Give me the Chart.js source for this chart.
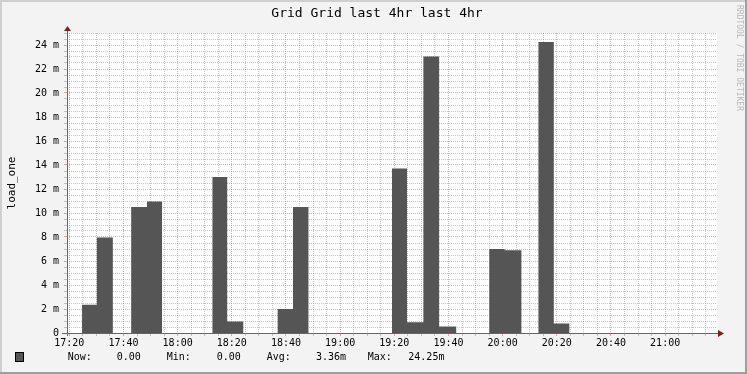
<!DOCTYPE html>
<html>
<head>
<meta charset="utf-8">
<script src="https://cdn.jsdelivr.net/npm/chart.js@4/dist/chart.umd.min.js"></script>
<style>
  html, body { margin: 0; padding: 0; background: #f3f3f3; }
  canvas { display: block; }
</style>
</head>
<body>
<canvas id="load-chart" width="747" height="374"></canvas>
<script>
// load_one samples, times in minutes after 17:00 (each step start/end)
const stepStart = [24.70, 30.15, 42.85, 48.67, 72.85, 78.30, 96.93, 102.59, 139.15, 144.70, 150.74, 156.56, 175.07, 180.74, 193.22, 198.89];
const stepEnd   = [30.15, 36.07, 48.67, 54.22, 78.30, 84.22, 102.59, 108.30, 144.70, 150.74, 156.56, 162.85, 180.74, 186.93, 198.89, 204.70];
const loadOne   = [2.35, 7.95, 10.5, 10.95, 13.0, 0.95, 2.0, 10.5, 13.7, 0.9, 23.05, 0.55, 7.0, 6.9, 24.25, 0.8]; // milli

const windowStart = 19.15; // 4hr window
const windowEnd = 259.15;
const xMinorTicks = [];   // every 5 min, 17:20 .. 21:15
for (let t = 20; t <= 255; t += 5) xMinorTicks.push(t);
const yTicks = [0, 2, 4, 6, 8, 10, 12, 14, 16, 18, 20, 22, 24];

const titleText = 'Grid Grid last 4hr last 4hr';
const yTitle = 'load_one';
const legendLabels = ['Now:', 'Min:', 'Avg:', 'Max:'];
const legendValues = ['0.00', '0.00', '3.36m', '24.25m'];
const watermark = 'RRDTOOL / TOBI OETIKER';

// build the step outline
const points = [];
for (let i = 0; i < loadOne.length; i++) {
    points.push({ x: stepStart[i], y: 0 });
    points.push({ x: stepStart[i], y: loadOne[i] });
    points.push({ x: stepEnd[i], y: loadOne[i] });
    points.push({ x: stepEnd[i], y: 0 });
}

const MONO = '"DejaVu Sans Mono", "Liberation Mono", monospace';
const GRID = 'rgba(150,150,150,0.55)';
const MGRID = 'rgba(222,80,80,0.5)';

function timeLabel(v) {
    const h = 17 + Math.floor(v / 60);
    const m = Math.round(v % 60);
    return h + ':' + (m < 10 ? '0' + m : m);
}

// rrdtool style frame, texts, axes and arrows
const rrdFrame = {
    id: 'rrdFrame',
    beforeDraw(chart) {
        const ctx = chart.ctx;
        const a = chart.chartArea;
        ctx.save();
        ctx.fillStyle = '#f3f3f3';
        ctx.fillRect(0, 0, 747, 374);
        ctx.fillStyle = '#cfcfcf';
        ctx.fillRect(0, 0, 747, 2);
        ctx.fillRect(0, 0, 2, 374);
        ctx.fillStyle = '#9e9e9e';
        ctx.fillRect(0, 372, 747, 2);
        ctx.fillRect(745, 0, 2, 374);
        ctx.fillStyle = '#ffffff';
        ctx.fillRect(a.left, a.top, a.right - a.left, a.bottom - a.top);
        ctx.restore();
    },
    afterDraw(chart) {
        const ctx = chart.ctx;
        const a = chart.chartArea;
        ctx.save();
        // axes
        ctx.strokeStyle = '#666666';
        ctx.lineWidth = 1;
        ctx.beginPath();
        ctx.moveTo(62, a.bottom + 0.5);
        ctx.lineTo(a.right + 1, a.bottom + 0.5);
        ctx.moveTo(a.left + 0.5, a.top - 2);
        ctx.lineTo(a.left + 0.5, a.bottom + 3);
        ctx.stroke();
        // arrows
        ctx.fillStyle = '#7f1f1f';
        ctx.beginPath();
        ctx.moveTo(a.right + 1, a.bottom - 3);
        ctx.lineTo(a.right + 1, a.bottom + 4);
        ctx.lineTo(a.right + 7, a.bottom + 0.5);
        ctx.closePath();
        ctx.fill();
        ctx.beginPath();
        ctx.moveTo(a.left - 3, a.top - 2);
        ctx.lineTo(a.left + 4, a.top - 2);
        ctx.lineTo(a.left + 0.5, a.top - 7);
        ctx.closePath();
        ctx.fill();

        // title
        ctx.fillStyle = '#000000';
        ctx.font = '13px ' + MONO;
        ctx.textAlign = 'center';
        ctx.textBaseline = 'middle';
        ctx.fillText(titleText, 377, 14);

        // y title
        ctx.save();
        ctx.translate(12, 183);
        ctx.rotate(-Math.PI / 2);
        ctx.font = '11px ' + MONO;
        ctx.fillText(yTitle, 0, 0);
        ctx.restore();

        // watermark
        ctx.save();
        ctx.translate(735, 5);
        ctx.rotate(Math.PI / 2);
        ctx.font = '8px ' + MONO;
        ctx.fillStyle = '#b8b8b8';
        ctx.textAlign = 'left';
        ctx.textBaseline = 'bottom';
        ctx.fillText(watermark, 0, 0);
        ctx.restore();

        // legend
        ctx.fillStyle = '#555555';
        ctx.fillRect(16, 353, 8, 9);
        ctx.strokeStyle = '#000000';
        ctx.strokeRect(15.5, 352.5, 8, 9);
        ctx.fillStyle = '#000000';
        ctx.font = '10px ' + MONO;
        ctx.textAlign = 'left';
        const labelX = [67.7, 166.7, 266.7, 367.7];
        const valueX = [116.7, 216.7, 316, 408.3];
        for (let i = 0; i < legendLabels.length; i++) {
            ctx.fillText(legendLabels[i], labelX[i], 357.5);
            ctx.fillText(legendValues[i], valueX[i], 357.5);
        }
        ctx.restore();
    }
};

new Chart(document.getElementById('load-chart'), {
    type: 'line',
    data: {
        datasets: [{
            label: yTitle,
            data: points,
            backgroundColor: '#555555',
            borderColor: '#555555',
            borderWidth: 0,
            pointRadius: 0,
            tension: 0,
            fill: 'origin'
        }]
    },
    plugins: [rrdFrame],
    options: {
        responsive: false,
        animation: false,
        devicePixelRatio: 1,
        layout: { padding: { top: 33, right: 30, left: 0, bottom: 0 } },
        plugins: {
            legend: { display: false },
            title: { display: false },
            tooltip: { enabled: false }
        },
        scales: {
            x: {
                type: 'linear',
                min: windowStart,
                max: windowEnd,
                afterBuildTicks(scale) { scale.ticks = xMinorTicks.map(v => ({ value: v })); },
                afterFit(scale) { scale.height = 41; },
                border: { display: false, dash: [1, 1] },
                grid: {
                    color: ctx => (ctx.tick && ctx.tick.value % 20 === 0) ? MGRID : GRID,
                    tickColor: ctx => (ctx.tick && ctx.tick.value % 20 === 0) ? MGRID : GRID,
                    lineWidth: 1,
                    tickLength: 3
                },
                ticks: {
                    autoSkip: false,
                    maxRotation: 0,
                    padding: 1,
                    color: '#000000',
                    font: { family: MONO, size: 10 },
                    callback: v => (v % 20 === 0) ? timeLabel(v) : ''
                }
            },
            y: {
                min: 0,
                max: 25,
                afterFit(scale) { scale.width = 67; },
                border: { display: false, dash: [1, 1] },
                grid: {
                    color: ctx => (ctx.tick && yTicks.includes(ctx.tick.value)) ? MGRID : GRID,
                    tickColor: ctx => (ctx.tick && yTicks.includes(ctx.tick.value)) ? MGRID : GRID,
                    lineWidth: 1,
                    tickLength: 3
                },
                ticks: {
                    stepSize: 0.5,
                    autoSkip: false,
                    padding: 5,
                    color: '#000000',
                    font: { family: MONO, size: 10 },
                    callback: v => yTicks.includes(v) ? (v === 0 ? '0' : v + ' m') : ''
                }
            }
        }
    }
});
</script>
</body>
</html>
